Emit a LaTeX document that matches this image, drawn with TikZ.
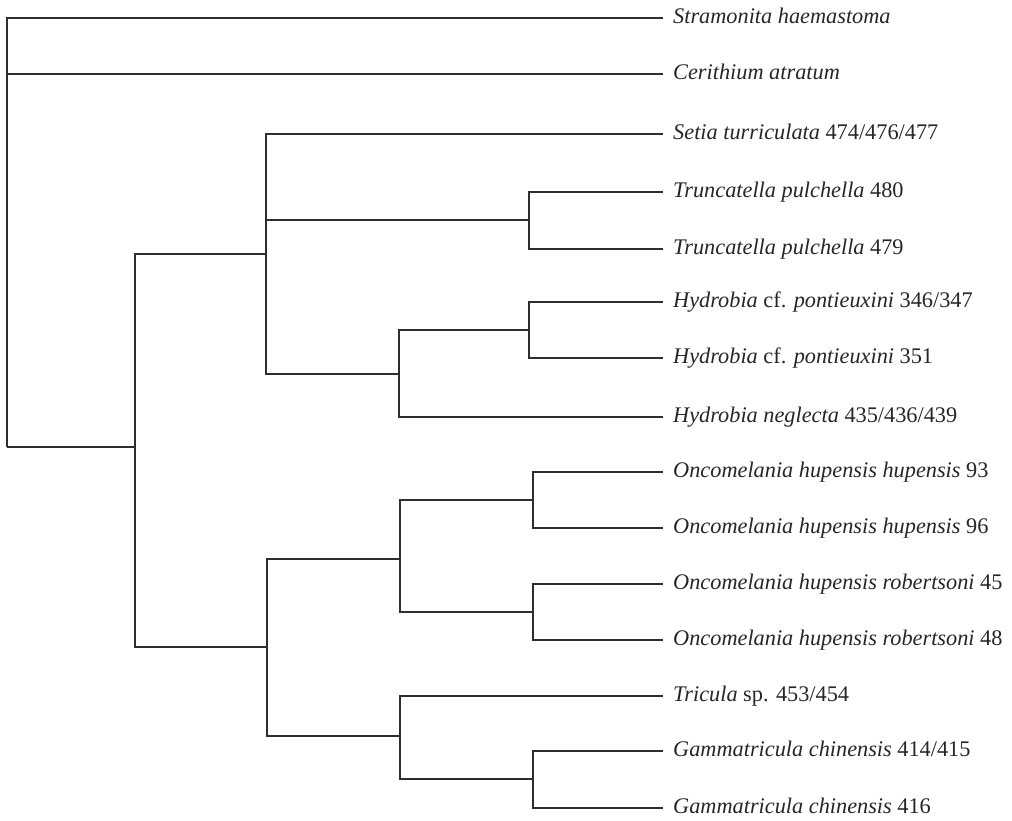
\documentclass[tikz,border=0pt]{standalone}
\usepackage{fontspec}
\setmainfont{Liberation Serif}

\tikzset{
    branch/.style={line width=2.1pt, color=black!82},
    taxon/.style={anchor=base west, inner sep=0pt, xshift=10pt, yshift=-5pt,
        font=\fontsize{22.3}{26}\selectfont, color=black!85}
}

\begin{document}
\begin{tikzpicture}[x=1pt,y=-1pt]
        \useasboundingbox (0,0) rectangle (1012,820);

        % tips
        \coordinate (stra) at (663,18);
        \coordinate (ceri) at (663,74);
        \coordinate (seti) at (663,134);
        \coordinate (tru480) at (663,192);
        \coordinate (tru479) at (663,249);
        \coordinate (hyd347) at (663,302);
        \coordinate (hyd351) at (663,358);
        \coordinate (hydneg) at (663,417);
        \coordinate (onc93) at (663,472);
        \coordinate (onc96) at (663,528);
        \coordinate (onc45) at (663,584);
        \coordinate (onc48) at (663,640);
        \coordinate (tric) at (663,696);
        \coordinate (gam415) at (663,751);
        \coordinate (gam416) at (663,808);

        % internal nodes
        \coordinate (root) at (7,447);
        \coordinate (n1) at (135,447);
        \coordinate (n2) at (266,254);
        \coordinate (n3) at (267,647);
        \coordinate (n4) at (529,220);
        \coordinate (n5) at (399,374);
        \coordinate (n6) at (529,330);
        \coordinate (n7) at (400,559);
        \coordinate (n8) at (400,736);
        \coordinate (n9) at (533,500);
        \coordinate (n10) at (533,612);
        \coordinate (n11) at (533,779);

        \begin{scope}[branch]
            \draw (root) |- (stra);
            \draw (root) |- (ceri);
            \draw (root) -- (n1);
            \draw (n1) |- (n2);
            \draw (n1) |- (n3);
            \draw (n2) |- (seti);
            \draw (n2) |- (n4);
            \draw (n2) |- (n5);
            \draw (n4) |- (tru480);
            \draw (n4) |- (tru479);
            \draw (n5) |- (n6);
            \draw (n5) |- (hydneg);
            \draw (n6) |- (hyd347);
            \draw (n6) |- (hyd351);
            \draw (n3) |- (n7);
            \draw (n3) |- (n8);
            \draw (n7) |- (n9);
            \draw (n7) |- (n10);
            \draw (n9) |- (onc93);
            \draw (n9) |- (onc96);
            \draw (n10) |- (onc45);
            \draw (n10) |- (onc48);
            \draw (n8) |- (tric);
            \draw (n8) |- (n11);
            \draw (n11) |- (gam415);
            \draw (n11) |- (gam416);
        \end{scope}

        \node[taxon] (stra-l) at (stra) {\textit{Stramonita haemastoma}};
        \node[taxon] (ceri-l) at (ceri) {\textit{Cerithium atratum}};
        \node[taxon] (seti-l) at (seti) {\textit{Setia turriculata} 474/476/477};
        \node[taxon] (tru480-l) at (tru480) {\textit{Truncatella pulchella} 480};
        \node[taxon] (tru479-l) at (tru479) {\textit{Truncatella pulchella} 479};
        \node[taxon] (hyd347-l) at (hyd347) {\textit{Hydrobia} cf. \textit{pontieuxini} 346/347};
        \node[taxon] (hyd351-l) at (hyd351) {\textit{Hydrobia} cf. \textit{pontieuxini} 351};
        \node[taxon] (hydneg-l) at (hydneg) {\textit{Hydrobia neglecta} 435/436/439};
        \node[taxon] (onc93-l) at (onc93) {\textit{Oncomelania hupensis hupensis} 93};
        \node[taxon] (onc96-l) at (onc96) {\textit{Oncomelania hupensis hupensis} 96};
        \node[taxon] (onc45-l) at (onc45) {\textit{Oncomelania hupensis robertsoni} 45};
        \node[taxon] (onc48-l) at (onc48) {\textit{Oncomelania hupensis robertsoni} 48};
        \node[taxon] (tric-l) at (tric) {\textit{Tricula} sp. 453/454};
        \node[taxon] (gam415-l) at (gam415) {\textit{Gammatricula chinensis} 414/415};
        \node[taxon] (gam416-l) at (gam416) {\textit{Gammatricula chinensis} 416};
\end{tikzpicture}
\end{document}
